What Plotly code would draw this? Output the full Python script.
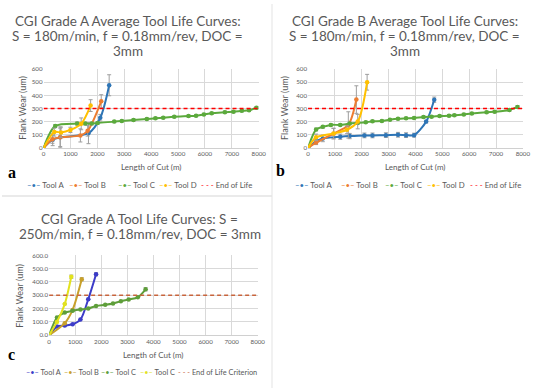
import plotly.graph_objects as go

W, H = 550, 391

# ---------------- Panel a data ----------------
a_toolA_x = [0, 340, 620, 1670, 2110, 2440]
a_toolA_y = [0, 62, 80, 112, 230, 477]
a_toolA_e = [0, 45, 80, 80, 25, 80]
a_toolB_x = [0, 330, 620, 1370, 1640, 2145]
a_toolB_y = [0, 65, 80, 95, 130, 355]
a_toolB_e = [0, 30, 70, 50, 40, 50]
a_toolC_x = [0, 436, 1250, 1550, 1790, 2010, 2630, 2910, 3345, 3840, 4160, 4450,
             4860, 5390, 5670, 5960, 6250, 6740, 7060, 7370, 7640, 7915]
a_toolC_y = [0, 167, 185, 185, 185, 190, 200, 205, 212, 220, 225, 230,
             237, 242, 245, 255, 263, 272, 275, 282, 287, 305]
a_toolC_e = [0, 10, 12, 10, 10, 10, 8, 8, 8, 8, 8, 8,
             8, 8, 8, 8, 8, 8, 8, 8, 8, 10]
a_toolD_x = [0, 400, 650, 1000, 1400, 1750]
a_toolD_y = [0, 120, 118, 137, 183, 322]
a_toolD_e = [0, 30, 40, 20, 45, 45]

# ---------------- Panel b data ----------------
b_toolA_x = [0, 300, 550, 1200, 1550, 2100, 2400, 2900, 3350, 3650, 3950, 4400, 4700]
b_toolA_y = [0, 50, 72, 85, 90, 95, 95, 97, 100, 97, 97, 200, 367]
b_toolA_e = [0, 20, 25, 20, 20, 18, 18, 18, 18, 18, 15, 10, 20]
b_toolB_x = [0, 300, 950, 1500, 1800]
b_toolB_y = [0, 40, 108, 175, 368]
b_toolB_e = [0, 15, 40, 100, 105]
b_toolC_x = [0, 300, 550, 850, 1200, 1550, 1850, 2150, 2400, 2750, 3050, 3350, 3650,
             3950, 4300, 4600, 4900, 5250, 5450, 5800, 6100, 6650, 6950, 7500, 7800]
b_toolC_y = [0, 140, 160, 175, 175, 185, 190, 195, 202, 205, 215, 222, 225,
             228, 235, 238, 242, 245, 248, 255, 262, 272, 275, 288, 312]
b_toolC_e = [0, 10, 10, 8, 8, 8, 8, 8, 8, 8, 8, 8, 8,
             8, 8, 8, 8, 8, 8, 8, 8, 8, 8, 8, 10]
b_toolD_x = [0, 300, 950, 1450, 1850, 2200]
b_toolD_y = [0, 80, 110, 138, 200, 500]
b_toolD_e = [0, 25, 40, 30, 55, 60]

# ---------------- Panel c data ----------------
c_toolA_x = [0, 300, 600, 900, 1200, 1500, 1800]
c_toolA_y = [0, 65, 72, 83, 117, 270, 458]
c_toolB_x = [0, 600, 900, 1250]
c_toolB_y = [0, 90, 190, 420]
c_toolC_x = [0, 300, 600, 900, 1200, 1500, 1800, 2150, 2450, 2750, 3050, 3400, 3700]
c_toolC_y = [0, 132, 170, 183, 193, 200, 220, 228, 238, 255, 268, 285, 345]
c_toolC2_x = [0, 300, 600, 850]
c_toolC2_y = [0, 100, 235, 440]
c_err_small = 12

eol_x = [0, 8000]
eol_y = [300, 300]

x_ticks = [0, 1000, 2000, 3000, 4000, 5000, 6000, 7000, 8000]
y_ticks = [0, 100, 200, 300, 400, 500, 600]

names_ab = ["Tool A", "Tool B", "Tool C", "Tool D", "End of Life"]
names_c = ["Tool A", "Tool B", "Tool C", "Tool C", "End of Life Criterion"]

col_ab = ["#2E75B6", "#ED7D31", "#5BAA3C", "#FFC000", "#FF0000"]
col_c = ["#3C3CC8", "#C8A02A", "#5E9E3A", "#E2E21E", "#C8643C"]

GREY = "#595959"
FONT = "Lato"


def px_x(p):
    return p / W


def px_y(p):
    return 1 - p / H


fig = go.Figure()


def add_series(x, y, e, color, xa, ya):
    fig.add_trace(go.Scatter(
        x=x, y=y, mode="lines+markers", xaxis=xa, yaxis=ya,
        line=dict(color=color, width=2, shape="spline", smoothing=0.8),
        marker=dict(color=color, size=4.5, symbol="circle"),
        error_y=dict(type="data", array=e, visible=True,
                     color="#9E9E9E", thickness=1, width=2),
        showlegend=False))


def add_eol(color, xa, ya):
    fig.add_trace(go.Scatter(
        x=eol_x, y=eol_y, mode="lines", xaxis=xa, yaxis=ya,
        line=dict(color=color, width=1.6, dash="4px,3px"),
        showlegend=False))


# panel a
add_series(a_toolA_x, a_toolA_y, a_toolA_e, col_ab[0], "x", "y")
add_series(a_toolB_x, a_toolB_y, a_toolB_e, col_ab[1], "x", "y")
add_series(a_toolC_x, a_toolC_y, a_toolC_e, col_ab[2], "x", "y")
add_series(a_toolD_x, a_toolD_y, a_toolD_e, col_ab[3], "x", "y")
add_eol(col_ab[4], "x", "y")
# panel b
add_series(b_toolA_x, b_toolA_y, b_toolA_e, col_ab[0], "x2", "y2")
add_series(b_toolB_x, b_toolB_y, b_toolB_e, col_ab[1], "x2", "y2")
add_series(b_toolC_x, b_toolC_y, b_toolC_e, col_ab[2], "x2", "y2")
add_series(b_toolD_x, b_toolD_y, b_toolD_e, col_ab[3], "x2", "y2")
add_eol(col_ab[4], "x2", "y2")
# panel c
for xs, ys, c in [(c_toolA_x, c_toolA_y, col_c[0]), (c_toolB_x, c_toolB_y, col_c[1]),
                  (c_toolC_x, c_toolC_y, col_c[2]), (c_toolC2_x, c_toolC2_y, col_c[3])]:
    add_series(xs, ys, [0] * (len(ys) - 1) + [c_err_small], c, "x3", "y3")
add_eol(col_c[4], "x3", "y3")


def xaxis(dom, anchor):
    return dict(domain=dom, anchor=anchor, range=[0, 8000], tickvals=x_ticks,
                showgrid=True, gridcolor="#D9D9D9", gridwidth=0.8,
                showline=True, linecolor="#D0D0D0", linewidth=1, zeroline=False,
                ticks="", tickfont=dict(family=FONT, size=6.2, color=GREY),
                fixedrange=True)


def yaxis(dom, anchor, fmt):
    return dict(domain=dom, anchor=anchor, range=[0, 600], tickvals=y_ticks,
                tickformat=fmt,
                showgrid=True, gridcolor="#D9D9D9", gridwidth=0.8,
                showline=False, zeroline=False,
                ticks="", tickfont=dict(family=FONT, size=6.2, color=GREY),
                fixedrange=True)


ya_dom = [px_y(146.5), px_y(66.3)]
yc_dom = [px_y(337.2), px_y(256)]

fig.update_layout(
    width=W, height=H, margin=dict(l=0, r=0, t=0, b=0),
    paper_bgcolor="white", plot_bgcolor="white",
    showlegend=False,
    xaxis=xaxis([px_x(42.3), px_x(261.5)], "y"),
    yaxis=yaxis(ya_dom, "x", "d"),
    xaxis2=xaxis([px_x(311.7), px_x(530.5)], "y2"),
    yaxis2=yaxis(ya_dom, "x2", "d"),
    xaxis3=xaxis([px_x(48), px_x(260.5)], "y3"),
    yaxis3=yaxis(yc_dom, "x3", ".1f"),
)

ann = []


def text_ann(txt, x, y, size, color=GREY, xanchor="center", family=FONT,
             weight=None, angle=0):
    f = dict(family=family, size=size, color=color)
    if weight:
        f["weight"] = weight
    ann.append(dict(text=txt, x=px_x(x), y=px_y(y), xref="paper", yref="paper",
                    xanchor=xanchor, yanchor="middle", showarrow=False, font=f,
                    textangle=angle, borderpad=0))


# titles
title_ab = ["S = 180m/min, f = 0.18mm/rev, DOC =", "3mm"]
for i, t in enumerate(["CGI Grade A Average Tool Life Curves:"] + title_ab):
    text_ann(t, 128, 17 + i * 15.6, 13.5)
for i, t in enumerate(["CGI Grade B Average Tool Life Curves:"] + title_ab):
    text_ann(t, 410, 17 + i * 15.6, 13.5)
for i, t in enumerate(["CGI Grade A Tool Life Curves: S =",
                       "250m/min, f = 0.18mm/rev, DOC = 3mm"]):
    text_ann(t, 140.5, 219 + i * 15.6, 13.5)

# axis titles
text_ann("Length of Cut (m)", 152, 166, 8)
text_ann("Length of Cut (m)", 421, 166, 8)
text_ann("Length of Cut (m)", 154, 357.5, 8)
text_ann("Flank Wear (um)", 20, 106, 9, angle=-90)
text_ann("Flank Wear (um)", 287, 106, 9, angle=-90)
text_ann("Flank Wear (um)", 18.5, 297, 9, angle=-90)

# panel letters
text_ann("a", 10, 172, 16, color="black", family="Liberation Serif", weight="bold")
text_ann("b", 284, 170, 16, color="black", family="Liberation Serif", weight="bold")
text_ann("c", 10, 357, 16, color="black", family="Liberation Serif", weight="bold")


# legends (one row under each panel)
def legend_row(names, colors, xs, y, size):
    for i, (n, c, x) in enumerate(zip(names, colors, xs)):
        if i == len(names) - 1:
            sample = f'<span style="color:{c}">- - -</span>'
        else:
            sample = f'<span style="color:{c}">–•–</span>'
        text_ann(sample + " " + n, x, y, size, xanchor="left")


legend_row(names_ab, col_ab, [24, 67, 117, 159, 202], 184, 7.8)
legend_row(names_ab, col_ab, [297, 344, 389, 432, 476], 184, 7.8)
legend_row(names_c, col_c, [23, 62, 100, 140, 178], 375, 7.4)

fig.update_layout(annotations=ann)

# panel frames
fig.update_layout(shapes=[
    dict(type="line", xref="paper", yref="paper", x0=px_x(275), x1=px_x(275),
         y0=0, y1=1, line=dict(color="#E3E3E3", width=1)),
    dict(type="line", xref="paper", yref="paper", x0=0, x1=px_x(275),
         y0=px_y(195.5), y1=px_y(195.5), line=dict(color="#E3E3E3", width=1.5)),
])

fig.write_html("out.html", post_script="document.body.style.margin='0';",
               config={"displayModeBar": False})
